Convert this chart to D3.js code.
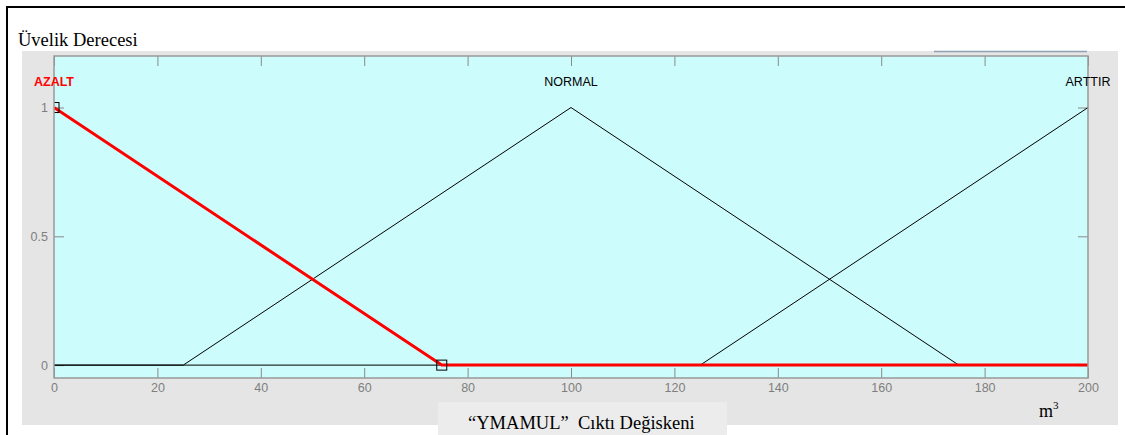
<!DOCTYPE html>
<html>
<head>
<meta charset="utf-8">
<script src="https://cdn.jsdelivr.net/npm/d3@7"></script>
<style>
  body { margin: 0; background: #fff; }
  #chart { width: 1125px; height: 435px; }
</style>
</head>
<body>
<div id="chart"></div>
<script>
////////////// DATA //////////////

const mfNames = ["AZALT", "NORMAL", "ARTTIR"];
const mfPeaks = [0, 100, 200];
const azaltPts = [[0, 1], [75, 0], [200, 0]];
const normalPts = [[0, 0], [25, 0], [100, 1], [175, 0], [200, 0]];
const arttirPts = [[0, 0], [125, 0], [200, 1]];
const markerPts = [[0, 1], [75, 0]];
const xTicks = [0, 20, 40, 60, 80, 100, 120, 140, 160, 180, 200];
const yTicks = [0, 0.5, 1];

////////////// CHART //////////////

const svg = d3.select("#chart").append("svg")
    .attr("width", 1125)
    .attr("height", 435);

const serif = "'Liberation Serif', 'Times New Roman', serif";
const labelFont = "'Liberation Sans', Arial, Helvetica, sans-serif";
const tickColor = "#8a8a8a";

// outer frame
svg.append("line").attr("x1", 6).attr("x2", 1125).attr("y1", 7).attr("y2", 7)
    .attr("stroke", "#000").attr("stroke-width", 2);
svg.append("line").attr("x1", 7).attr("x2", 7).attr("y1", 6).attr("y2", 435)
    .attr("stroke", "#000").attr("stroke-width", 2);

svg.append("text")
    .attr("x", 18).attr("y", 46)
    .style("font-family", serif)
    .style("font-size", "18.5px")
    .text("Üvelik Derecesi");

// figure gray
svg.append("rect").attr("x", 22).attr("y", 51).attr("width", 1096).attr("height", 374)
    .attr("fill", "#e5e5e5");
svg.append("line").attr("x1", 934).attr("x2", 1087).attr("y1", 51.5).attr("y2", 51.5)
    .attr("stroke", "#8ea0b4").attr("stroke-width", 1.5);

const x = d3.scaleLinear().domain([0, 200]).range([54, 1088]);
const y = d3.scaleLinear().domain([-0.05, 1.2]).range([378, 56]);

svg.append("rect")
    .attr("x", x(0)).attr("y", y(1.2))
    .attr("width", x(200) - x(0)).attr("height", y(-0.05) - y(1.2))
    .attr("fill", "#ccfcfc");

svg.append("clipPath").attr("id", "plotClip")
    .append("rect")
    .attr("x", x(0)).attr("y", y(1.2))
    .attr("width", x(200) - x(0)).attr("height", y(-0.05) - y(1.2));

function styleAxis(g, hideText) {
    g.select(".domain").remove();
    g.selectAll(".tick line").attr("stroke", tickColor);
    g.selectAll(".tick text")
        .attr("fill", "#7f7f7f")
        .style("font-family", labelFont)
        .style("font-size", "12.5px");
    if (hideText) g.selectAll(".tick text").remove();
}

svg.append("g").attr("transform", `translate(0,${y(-0.05)})`)
    .call(d3.axisBottom(x).tickValues(xTicks).tickSize(-10).tickPadding(5).tickFormat(d3.format("d")))
    .call(g => styleAxis(g, false));
svg.append("g").attr("transform", `translate(0,${y(1.2)})`)
    .call(d3.axisTop(x).tickValues(xTicks).tickSize(-10))
    .call(g => styleAxis(g, true));
svg.append("g").attr("transform", `translate(${x(0)},0)`)
    .call(d3.axisLeft(y).tickValues(yTicks).tickSize(-10).tickPadding(6).tickFormat(d => d))
    .call(g => styleAxis(g, false));
svg.append("g").attr("transform", `translate(${x(200)},0)`)
    .call(d3.axisRight(y).tickValues(yTicks).tickSize(-10))
    .call(g => styleAxis(g, true));

// curves
const line = d3.line().x(d => x(d[0])).y(d => y(d[1]));
const plot = svg.append("g").attr("clip-path", "url(#plotClip)");

[normalPts, arttirPts].forEach(function (pts) {
    plot.append("path")
        .attr("d", line(pts))
        .attr("fill", "none")
        .attr("stroke", "#000")
        .attr("stroke-width", 1);
});
plot.append("path")
    .attr("d", line(azaltPts))
    .attr("fill", "none")
    .attr("stroke", "#ff0000")
    .attr("stroke-width", 3);

plot.selectAll("rect.marker")
    .data(markerPts)
    .enter()
    .append("rect")
    .attr("class", "marker")
    .attr("x", d => x(d[0]) - 5)
    .attr("y", d => y(d[1]) - 5)
    .attr("width", 10).attr("height", 10)
    .attr("fill", "none")
    .attr("stroke", "#000")
    .attr("stroke-width", 1);

// axes box
svg.append("rect")
    .attr("x", x(0)).attr("y", y(1.2))
    .attr("width", x(200) - x(0)).attr("height", y(-0.05) - y(1.2))
    .attr("fill", "none").attr("stroke", "#999").attr("stroke-width", 1.5);

// mf labels
svg.selectAll("text.mf")
    .data(mfNames)
    .enter()
    .append("text")
    .attr("class", "mf")
    .attr("x", (d, i) => x(mfPeaks[i]))
    .attr("y", 86)
    .attr("text-anchor", "middle")
    .attr("fill", (d, i) => i === 0 ? "#ff0000" : "#000")
    .style("font-weight", (d, i) => i === 0 ? "bold" : "normal")
    .style("font-family", labelFont)
    .style("font-size", "12.5px")
    .text(d => d);

// axis caption
svg.append("rect").attr("x", 438).attr("y", 402).attr("width", 289).attr("height", 33)
    .attr("fill", "#ececec");
svg.append("text")
    .attr("x", 468).attr("y", 429)
    .style("font-family", serif)
    .style("font-size", "18.5px")
    .text("“YMAMUL”\u00a0\u00a0Cıktı Değiskeni");

const unit = svg.append("text")
    .attr("x", 1039).attr("y", 417)
    .style("font-family", serif)
    .style("font-size", "18px");
unit.append("tspan").text("m");
unit.append("tspan").attr("dy", -8).style("font-size", "11px").text("3");
</script>
</body>
</html>
